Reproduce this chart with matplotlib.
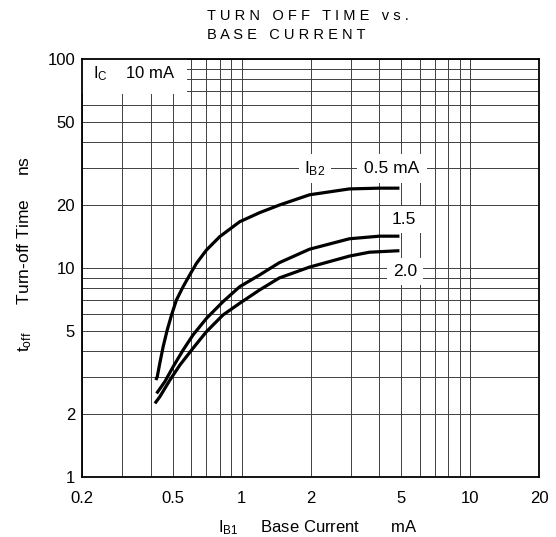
import matplotlib
matplotlib.use("Agg")
import matplotlib.pyplot as plt
from matplotlib.ticker import FixedLocator, LogLocator, NullFormatter

plt.rcParams["font.family"] = ["Liberation Sans", "DejaVu Sans"]
plt.rcParams["mathtext.fontset"] = "custom"
plt.rcParams["mathtext.rm"] = "Liberation Sans"
plt.rcParams["mathtext.it"] = "Liberation Sans:italic"

# I_B1 (mA) vs t_off (ns)
ib1_05 = [0.421, 0.427, 0.438, 0.453, 0.472, 0.493, 0.518, 0.554, 0.592,
          0.634, 0.701, 0.801, 0.980, 1.197, 1.46, 1.98, 2.96, 4.0, 4.9]
toff_05 = [2.91, 3.02, 3.50, 4.20, 5.05, 5.96, 7.03, 8.14, 9.26,
           10.53, 12.19, 14.12, 16.65, 18.39, 20.0, 22.4, 23.9, 24.1, 24.1]

ib1_15 = [0.424, 0.461, 0.501, 0.554, 0.612, 0.701, 0.828, 0.980, 1.197,
          1.46, 1.98, 2.96, 4.0, 4.9]
toff_15 = [2.51, 2.86, 3.37, 4.05, 4.78, 5.74, 6.90, 8.14, 9.26,
           10.6, 12.3, 13.8, 14.2, 14.2]

ib1_20 = [0.417, 0.438, 0.485, 0.536, 0.612, 0.701, 0.828, 0.980, 1.197,
          1.46, 1.98, 2.96, 3.62, 4.9]
toff_20 = [2.25, 2.42, 2.91, 3.43, 4.13, 4.96, 5.96, 6.78, 7.85,
           8.96, 10.1, 11.4, 11.9, 12.1]

x_ticks = [0.2, 0.5, 1, 2, 5, 10, 20]
x_tick_labels = ["0.2", "0.5", "1", "2", "5", "10", "20"]
y_ticks = [1, 2, 5, 10, 20, 50, 100]
y_tick_labels = ["1", "2", "5", "10", "20", "50", "100"]

title_lines = ["TURN OFF TIME vs.", "BASE CURRENT"]


def spaced(s):
    # the scanned title is set with wide letter spacing
    return " ".join(s)


fig = plt.figure(figsize=(5.56, 5.37), dpi=100)
ax = fig.add_axes([82 / 556, 60 / 537, 457 / 556, 418 / 537])

ax.set_xscale("log")
ax.set_yscale("log")
ax.set_xlim(0.2, 20)
ax.set_ylim(1, 100)

ax.xaxis.set_major_locator(FixedLocator(x_ticks))
ax.set_xticklabels(x_tick_labels)
ax.yaxis.set_major_locator(FixedLocator(y_ticks))
ax.set_yticklabels(y_tick_labels)
ax.xaxis.set_minor_locator(LogLocator(base=10, subs=range(1, 10)))
ax.yaxis.set_minor_locator(LogLocator(base=10, subs=range(1, 10)))
ax.xaxis.set_minor_formatter(NullFormatter())
ax.yaxis.set_minor_formatter(NullFormatter())

ax.tick_params(which="both", length=0, labelsize=12, colors="black")
ax.tick_params(axis="x", pad=10)
ax.tick_params(axis="y", pad=5)

ax.set_axisbelow(True)
ax.grid(True, which="both", color="0.25", linewidth=0.7)
for sp in ax.spines.values():
    sp.set_linewidth(1.3)
    sp.set_color("black")
    sp.set_zorder(5)

for xs, ys in [(ib1_05, toff_05), (ib1_15, toff_15), (ib1_20, toff_20)]:
    ax.plot(xs, ys, color="black", linewidth=2.3, solid_capstyle="butt",
            solid_joinstyle="round", zorder=3)

white = dict(facecolor="white", edgecolor="none", boxstyle="square")

ax.text(0.024, 0.966, r"I$_{\mathrm{C}}$    10 mA", transform=ax.transAxes,
        fontsize=12, ha="left", va="center", zorder=2,
        bbox=dict(white, pad=0.7))
ax.text(1.88, 30, r"I$_{\mathrm{B2}}$", fontsize=12.5, ha="left",
        va="center", zorder=2, bbox=dict(white, pad=0.3))
ax.text(3.44, 30, "0.5 mA", fontsize=12.5, ha="left", va="center",
        zorder=2, bbox=dict(white, pad=0.4))
ax.text(5.1, 17.1, "1.5", fontsize=12.5, ha="center", va="center",
        zorder=2, bbox=dict(white, pad=0.35))
ax.text(5.2, 9.6, "2.0", fontsize=12.5, ha="center", va="center",
        zorder=2, bbox=dict(white, pad=0.35))

fig.text(25 / 556, 1 - 254 / 537,
         r"t$_{\mathrm{off}}$      Turn-off Time     ns",
         rotation=90, ha="center", va="center", fontsize=12.5)
fig.text(318 / 556, 1 - 528 / 537,
         r"I$_{\mathrm{B1}}$     Base Current       mA",
         ha="center", va="center", fontsize=12)

fig.text(207 / 556, 1 - 16 / 537, spaced(title_lines[0]), ha="left",
         va="center", fontsize=10.5)
fig.text(207 / 556, 1 - 35 / 537, spaced(title_lines[1]), ha="left",
         va="center", fontsize=10.5)

fig.savefig("out.png", dpi=100)
